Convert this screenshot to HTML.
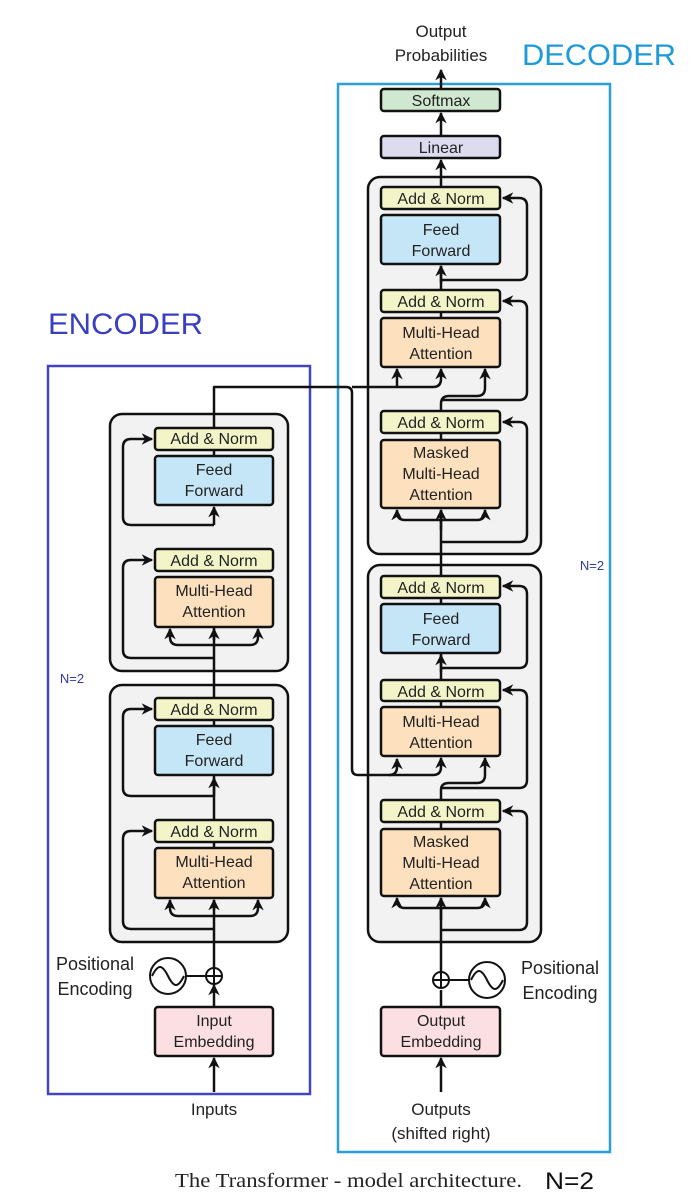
<!DOCTYPE html>
<html><head><meta charset="utf-8"><style>
html,body{margin:0;padding:0;background:#fff;}
svg{display:block;}
text{font-family:"Liberation Sans",sans-serif;fill:#222;}
</style></head><body>
<svg width="691" height="1201" viewBox="0 0 691 1201" xmlns="http://www.w3.org/2000/svg">
<defs>
<marker id="a" viewBox="0 0 10 10" refX="9" refY="5" markerWidth="4.6" markerHeight="4.6" orient="auto-start-reverse" markerUnits="strokeWidth">
<path d="M0,0 L10,5 L0,10 L3,5 z" fill="#111"/></marker>
</defs>
<g font-size="16" text-anchor="middle">
<text x="48" y="334" font-size="30" text-anchor="start" textLength="155" lengthAdjust="spacingAndGlyphs" style="fill:#3a3fc0">ENCODER</text>
<text x="522" y="65" font-size="30" text-anchor="start" textLength="154" lengthAdjust="spacingAndGlyphs" style="fill:#1f9ad9">DECODER</text>
<rect x="48" y="366" width="262" height="728" fill="none" stroke="#4444bb" stroke-width="2.5"/>
<rect x="338" y="84" width="272" height="1068" fill="none" stroke="#2a9fd8" stroke-width="2.5"/>

<rect x="110" y="414" width="178" height="257" rx="12" fill="#f2f2f2" stroke="#111" stroke-width="2.5"/>
<rect x="110" y="685" width="178" height="257" rx="12" fill="#f2f2f2" stroke="#111" stroke-width="2.5"/>
<rect x="368" y="177" width="173" height="377" rx="12" fill="#f2f2f2" stroke="#111" stroke-width="2.5"/>
<rect x="368" y="565" width="173" height="377" rx="12" fill="#f2f2f2" stroke="#111" stroke-width="2.5"/>

<g fill="none" stroke="#111" stroke-width="2.5" stroke-linejoin="round">
<path d="M214,1092 L214,1058" marker-end="url(#a)"/>
<path d="M214,1007 L214,985" marker-end="url(#a)"/>
<path d="M214,967 L214,900" />
<path d="M214,848 L214,776"/>
<path d="M214,796 L214,778" marker-end="url(#a)"/>
<path d="M214,727 L214,577"/>
<path d="M214,525 L214,507" marker-end="url(#a)"/>
<path d="M214,456 L214,387 Q214,387 220,387 L346,387 Q352,387 352,393 L352,769 Q352,775 358,775 L389,775 Q397,775 397,767 L397,759" marker-end="url(#a)"/>
<path d="M214,916 L178,916 Q170,916 170,908 L170,900" marker-end="url(#a)"/>
<path d="M214,916 L250,916 Q258,916 258,908 L258,900" marker-end="url(#a)"/>
<path d="M214,910 L214,900" marker-end="url(#a)"/>
<path d="M214,929 L131,929 Q123,929 123,921 L123,839 Q123,831 131,831 L152,831" marker-end="url(#a)"/>
<path d="M214,796 L131,796 Q123,796 123,788 L123,717 Q123,709 131,709 L152,709" marker-end="url(#a)"/>
<path d="M214,645 L178,645 Q170,645 170,637 L170,629" marker-end="url(#a)"/>
<path d="M214,645 L250,645 Q258,645 258,637 L258,629" marker-end="url(#a)"/>
<path d="M214,640 L214,629" marker-end="url(#a)"/>
<path d="M214,658 L131,658 Q123,658 123,650 L123,568 Q123,560 131,560 L152,560" marker-end="url(#a)"/>
<path d="M214,525 L131,525 Q123,525 123,517 L123,447 Q123,439 131,439 L152,439" marker-end="url(#a)"/>

<path d="M441,1092 L441,1058" marker-end="url(#a)"/>
<path d="M441,1007 L441,990"/>
<path d="M441,972 L441,898"/>
<path d="M441,920 L441,898" marker-end="url(#a)"/>
<path d="M441,829 L441,790 Q441,783 449,783 L477,783 Q485,783 485,775 L485,758" marker-end="url(#a)"/>
<path d="M389,775 L433,775 Q441,775 441,767 L441,758" marker-end="url(#a)"/>
<path d="M441,706 L441,654" />
<path d="M441,672 L441,655" marker-end="url(#a)"/>
<path d="M441,603 L441,510"/>
<path d="M441,530 L441,510" marker-end="url(#a)"/>
<path d="M441,440 L441,404 Q441,396 449,396 L477,396 Q485,396 485,388 L485,369" marker-end="url(#a)"/>
<path d="M352,387 L433,387 Q441,387 441,379 L441,369" marker-end="url(#a)"/>
<path d="M397,387 L397,369" marker-end="url(#a)"/>
<path d="M441,318 L441,266"/>
<path d="M441,283 L441,266" marker-end="url(#a)"/>
<path d="M441,187 L441,160" marker-end="url(#a)"/>
<path d="M441,136 L441,113" marker-end="url(#a)"/>
<path d="M441,89 L441,70" marker-end="url(#a)"/>
<path d="M441,908 L405,908 Q397,908 397,900 L397,898" marker-end="url(#a)"/>
<path d="M441,908 L477,908 Q485,908 485,900 L485,898" marker-end="url(#a)"/>
<path d="M441,930 L519,930 Q527,930 527,922 L527,819 Q527,811 519,811 L503,811" marker-end="url(#a)"/>
<path d="M441,788 L519,788 Q527,788 527,780 L527,698 Q527,690 519,690 L503,690" marker-end="url(#a)"/>
<path d="M441,668 L519,668 Q527,668 527,660 L527,594 Q527,586 519,586 L503,586" marker-end="url(#a)"/>
<path d="M441,520 L405,520 Q397,520 397,512 L397,510" marker-end="url(#a)"/>
<path d="M441,520 L477,520 Q485,520 485,512 L485,510" marker-end="url(#a)"/>
<path d="M441,542 L519,542 Q527,542 527,534 L527,430 Q527,422 519,422 L503,422" marker-end="url(#a)"/>
<path d="M441,400 L519,400 Q527,400 527,392 L527,309 Q527,301 519,301 L503,301" marker-end="url(#a)"/>
<path d="M441,280 L519,280 Q527,280 527,272 L527,206 Q527,198 519,198 L503,198" marker-end="url(#a)"/>
</g>

<g stroke="#111" stroke-width="2.5">
<rect x="155" y="428" width="118" height="22" rx="3" fill="#f3f5c8"/>
<rect x="155" y="456" width="118" height="49" rx="3" fill="#c5e6f6"/>
<rect x="155" y="549" width="118" height="22" rx="3" fill="#f3f5c8"/>
<rect x="155" y="577" width="118" height="50" rx="3" fill="#fde0bd"/>
<rect x="155" y="698" width="118" height="22" rx="3" fill="#f3f5c8"/>
<rect x="155" y="726" width="118" height="49" rx="3" fill="#c5e6f6"/>
<rect x="155" y="820" width="118" height="22" rx="3" fill="#f3f5c8"/>
<rect x="155" y="848" width="118" height="50" rx="3" fill="#fde0bd"/>
<rect x="155" y="1007" width="118" height="49" rx="3" fill="#fbdfe2"/>
<rect x="381" y="89" width="119" height="22" rx="3" fill="#cfe8cf"/>
<rect x="381" y="136" width="119" height="22" rx="3" fill="#dddcef"/>
<rect x="381" y="187" width="119" height="22" rx="3" fill="#f3f5c8"/>
<rect x="381" y="215" width="119" height="49" rx="3" fill="#c5e6f6"/>
<rect x="381" y="290" width="119" height="22" rx="3" fill="#f3f5c8"/>
<rect x="381" y="318" width="119" height="49" rx="3" fill="#fde0bd"/>
<rect x="381" y="411" width="119" height="22" rx="3" fill="#f3f5c8"/>
<rect x="381" y="440" width="119" height="68" rx="3" fill="#fde0bd"/>
<rect x="381" y="576" width="119" height="22" rx="3" fill="#f3f5c8"/>
<rect x="381" y="604" width="119" height="49" rx="3" fill="#c5e6f6"/>
<rect x="381" y="680" width="119" height="21" rx="3" fill="#f3f5c8"/>
<rect x="381" y="707" width="119" height="49" rx="3" fill="#fde0bd"/>
<rect x="381" y="800" width="119" height="22" rx="3" fill="#f3f5c8"/>
<rect x="381" y="829" width="119" height="67" rx="3" fill="#fde0bd"/>
<rect x="381" y="1007" width="119" height="49" rx="3" fill="#fbdfe2"/>
</g>

<g fill="none" stroke="#111" stroke-width="2">
<circle cx="214" cy="976" r="8" fill="#fff"/><path d="M206,976 H222 M214,968 V984"/>
<circle cx="168" cy="976" r="18" fill="#fff"/><path d="M152,976 C158,964 162,964 168,976 C174,988 178,988 184,976"/>
<path d="M186,976 L206,976"/>
<circle cx="441" cy="980" r="8" fill="#fff"/><path d="M433,980 H449 M441,972 V988"/>
<circle cx="487" cy="980" r="18" fill="#fff"/><path d="M471,980 C477,968 481,968 487,980 C493,992 497,992 503,980"/>
<path d="M449,980 L469,980"/>
</g>

<text x="214" y="444">Add &amp; Norm</text>
<text x="214" y="475">Feed</text><text x="214" y="496">Forward</text>
<text x="214" y="566">Add &amp; Norm</text>
<text x="214" y="596">Multi-Head</text><text x="214" y="617">Attention</text>
<text x="214" y="715">Add &amp; Norm</text>
<text x="214" y="745">Feed</text><text x="214" y="766">Forward</text>
<text x="214" y="837">Add &amp; Norm</text>
<text x="214" y="867">Multi-Head</text><text x="214" y="888">Attention</text>
<text x="214" y="1026">Input</text><text x="214" y="1047">Embedding</text>
<text x="214" y="1115" font-size="17">Inputs</text>
<text x="95" y="970" font-size="18">Positional</text><text x="95" y="995" font-size="18">Encoding</text>

<text x="441" y="106">Softmax</text>
<text x="441" y="153">Linear</text>
<text x="441" y="204">Add &amp; Norm</text>
<text x="441" y="235">Feed</text><text x="441" y="256">Forward</text>
<text x="441" y="307">Add &amp; Norm</text>
<text x="441" y="338">Multi-Head</text><text x="441" y="359">Attention</text>
<text x="441" y="428">Add &amp; Norm</text>
<text x="441" y="458">Masked</text><text x="441" y="479">Multi-Head</text><text x="441" y="500">Attention</text>
<text x="441" y="593">Add &amp; Norm</text>
<text x="441" y="624">Feed</text><text x="441" y="645">Forward</text>
<text x="441" y="697">Add &amp; Norm</text>
<text x="441" y="727">Multi-Head</text><text x="441" y="748">Attention</text>
<text x="441" y="817">Add &amp; Norm</text>
<text x="441" y="847">Masked</text><text x="441" y="868">Multi-Head</text><text x="441" y="889">Attention</text>
<text x="441" y="1026">Output</text><text x="441" y="1047">Embedding</text>
<text x="441" y="1115" font-size="17">Outputs</text><text x="441" y="1139" font-size="17">(shifted right)</text>
<text x="560" y="974" font-size="18">Positional</text><text x="560" y="999" font-size="18">Encoding</text>
<text x="441" y="37" font-size="17">Output</text><text x="441" y="61" font-size="17">Probabilities</text>

<text x="72" y="683" font-size="13" style="fill:#2e3c9a">N=2</text>
<text x="592" y="570" font-size="13" style="fill:#2e3c9a">N=2</text>
<text x="175" y="1187" font-size="20" text-anchor="start" textLength="347" lengthAdjust="spacingAndGlyphs" style="font-family:'Liberation Serif',serif">The Transformer - model architecture.</text>
<text x="545" y="1189" font-size="24" text-anchor="start" textLength="49" lengthAdjust="spacingAndGlyphs" style="fill:#111">N=2</text>
</g>
</svg>
</body></html>
